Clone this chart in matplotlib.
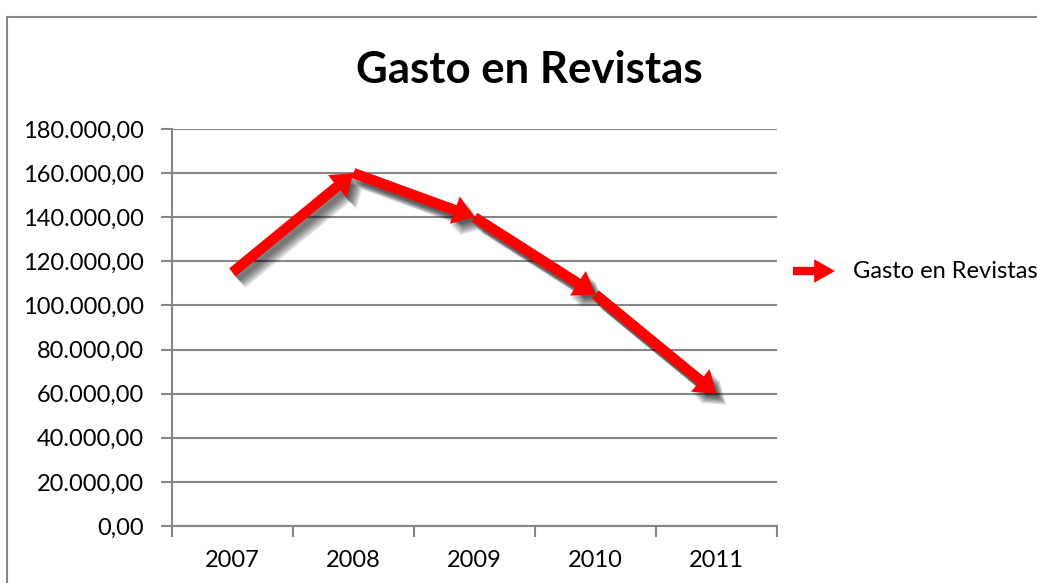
import matplotlib.pyplot as plt
from matplotlib import patheffects
from matplotlib.patches import Rectangle, FancyArrowPatch
from matplotlib.ticker import FuncFormatter

years = ['2007', '2008', '2009', '2010', '2011']
gasto = [115000, 160000, 140000, 105000, 60000]
y_ticks = [0, 20000, 40000, 60000, 80000, 100000, 120000, 140000, 160000, 180000]

FONT = 'Lato'
RED = '#ff0000'
GRID = '#868686'
ARROW = 'simple,head_length=1.5,head_width=2.1,tail_width=0.75'


def es_fmt(v, pos=None):
    # 160000 -> 160.000,00
    s = '{:,.2f}'.format(v)
    return s.replace(',', 'X').replace('.', ',').replace('X', '.')


fig = plt.figure(figsize=(10.37, 5.83), dpi=100)
fig.patches.append(Rectangle((7 / 1037, -0.1), 1.2, 1 - 17 / 583 + 0.1,
                             transform=fig.transFigure, fill=False,
                             edgecolor=GRID, linewidth=1.5))

ax = fig.add_axes([172 / 1037, 1 - 526 / 583, 605 / 1037, 397 / 583])
x = list(range(len(years)))

# soft shadow: a few offset copies stacked
shadow = [patheffects.SimplePatchShadow(offset=(o, -o - 1), shadow_rgbFace='black', alpha=0.13)
          for o in (1, 2, 3, 4, 5, 6, 7)] + [patheffects.Normal()]
for i in range(len(x) - 1):
    ax.annotate('', xy=(x[i + 1], gasto[i + 1]), xytext=(x[i], gasto[i]),
                arrowprops=dict(arrowstyle=ARROW, fc=RED, ec='none', lw=0,
                                shrinkA=0, shrinkB=0, path_effects=shadow),
                zorder=3)

ax.set_xlim(-0.5, len(years) - 0.5)
ax.set_ylim(0, 180000)
ax.set_yticks(y_ticks)
ax.yaxis.set_major_formatter(FuncFormatter(es_fmt))
ax.set_xticks(x)
ax.set_xticklabels(years)
ax.set_xticks([i - 0.5 for i in range(len(years) + 1)], minor=True)
ax.tick_params(axis='x', which='major', length=0, pad=17)
ax.tick_params(axis='x', which='minor', length=8, width=1.5, color=GRID)
ax.tick_params(axis='y', length=8, width=1.5, color=GRID, pad=12)
for lab in ax.get_xticklabels() + ax.get_yticklabels():
    lab.set_fontfamily(FONT)
    lab.set_fontsize(17)

ax.grid(axis='y', color=GRID, linewidth=1.5)
ax.set_axisbelow(True)
for s in ['top', 'right']:
    ax.spines[s].set_visible(False)
for s in ['left', 'bottom']:
    ax.spines[s].set_color(GRID)
    ax.spines[s].set_linewidth(1.5)

fig.text(529 / 1037, 1 - 70 / 583, 'Gasto en Revistas', ha='center', va='center',
         fontsize=31.5, fontweight='bold', fontfamily=FONT)

# legend
fig.patches.append(FancyArrowPatch(
    (793 / 1037, 1 - 271 / 583), (835 / 1037, 1 - 271 / 583), transform=fig.transFigure,
    arrowstyle='simple,head_length=1.5,head_width=1.7,tail_width=0.6',
    fc=RED, ec='none', lw=0, shrinkA=0, shrinkB=0, mutation_scale=10))
fig.text(853 / 1037, 1 - 271 / 583, 'Gasto en Revistas', ha='left', va='center',
         fontsize=17, fontfamily=FONT)

fig.savefig('out.png', dpi=100)
